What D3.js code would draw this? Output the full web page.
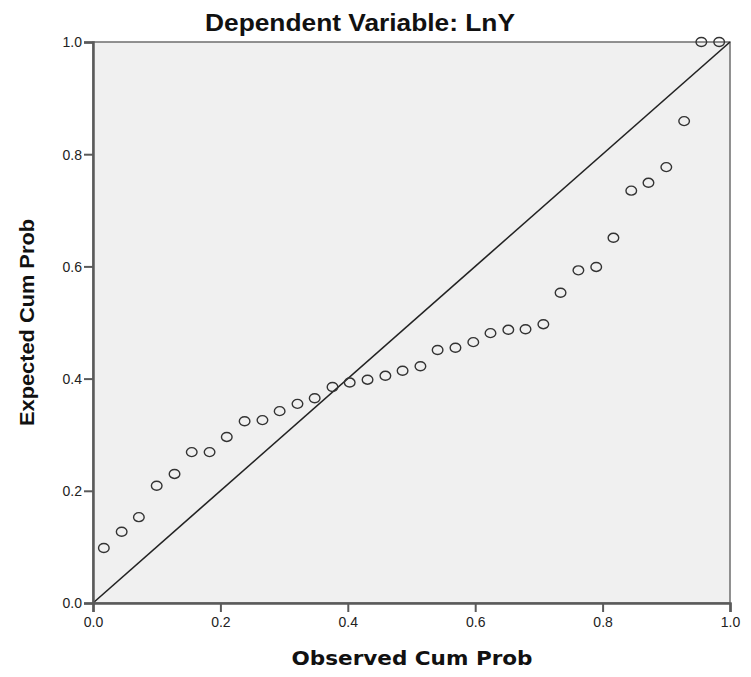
<!DOCTYPE html>
<html><head><meta charset="utf-8">
<script src="https://cdn.jsdelivr.net/npm/d3@7"></script>
<style>body{margin:0;background:#fff;} svg{display:block;}</style>
</head><body>
<script>
const observed = [0.017,0.045,0.072,0.100,0.128,0.155,0.183,0.210,0.238,0.266,0.293,0.321,0.348,0.376,0.403,0.431,0.459,0.486,0.514,0.541,0.569,0.597,0.624,0.652,0.679,0.707,0.734,0.762,0.790,0.817,0.845,0.872,0.900,0.928,0.955,0.983];
const expected = [0.098,0.127,0.153,0.209,0.230,0.269,0.269,0.296,0.324,0.326,0.342,0.355,0.365,0.385,0.393,0.398,0.405,0.414,0.422,0.451,0.455,0.465,0.481,0.487,0.488,0.497,0.553,0.593,0.599,0.651,0.735,0.749,0.777,0.859,1.0,1.0];
const ticks = [0,0.2,0.4,0.6,0.8,1.0];
const title = "Dependent Variable: LnY";
const xTitle = "Observed Cum Prob";
const yTitle = "Expected Cum Prob";

const W = 751, H = 677;
const m = {left:93, right:21, top:42, bottom:74};
const svg = d3.select("body").append("svg").attr("width",W).attr("height",H);
const x = d3.scaleLinear().domain([0,1]).range([m.left, W-m.right]);
const y = d3.scaleLinear().domain([0,1]).range([H-m.bottom, m.top]);

svg.append("rect").attr("x",x(0)).attr("y",y(1)).attr("width",x(1)-x(0)).attr("height",y(0)-y(1))
  .attr("fill","#f0f0f0").attr("stroke","#6e6e6e").attr("stroke-width",1.5);

// diagonal
svg.append("line").attr("x1",x(0)).attr("y1",y(0)).attr("x2",x(1)).attr("y2",y(1))
  .attr("stroke","#222").attr("stroke-width",1.6);

const fmt = d3.format(".1f");
const xa = svg.append("g").attr("transform",`translate(0,${y(0)})`)
  .call(d3.axisBottom(x).tickValues(ticks).tickFormat(fmt).tickSize(9).tickPadding(5));
const ya = svg.append("g").attr("transform",`translate(${x(0)},0)`)
  .call(d3.axisLeft(y).tickValues(ticks).tickFormat(fmt).tickSize(9).tickPadding(2));
[xa,ya].forEach(g=>{
  g.select(".domain").attr("stroke","#5a5a5a").attr("stroke-width",2.5);
  g.selectAll(".tick line").attr("stroke","#5a5a5a").attr("stroke-width",2);
  g.selectAll("text").attr("fill","#222").style("font-family","'Liberation Sans', Arial, sans-serif").style("font-size","14px");
});
ya.selectAll(".tick text").attr("dy","0.35em");

svg.append("g").selectAll("ellipse").data(observed.map((o,i)=>[o,expected[i]])).join("ellipse")
  .attr("cx",d=>x(d[0])).attr("cy",d=>y(d[1])).attr("rx",5.3).attr("ry",4.5)
  .attr("fill","none").attr("stroke","#333").attr("stroke-width",1.4);

const tf = "'Liberation Sans', Arial, sans-serif";
const df = "'DejaVu Sans', Verdana, sans-serif";
svg.append("text").attr("x",360).attr("y",31).attr("text-anchor","middle")
  .attr("textLength",310).attr("lengthAdjust","spacingAndGlyphs")
  .style("font-family",tf).style("font-weight","bold").style("font-size","23px").attr("fill","#111").text(title);
svg.append("text").attr("x",412).attr("y",665).attr("text-anchor","middle")
  .attr("textLength",241).attr("lengthAdjust","spacingAndGlyphs")
  .style("font-family",df).style("font-weight","bold").style("font-size","20px").attr("fill","#111").text(xTitle);
svg.append("text").attr("transform",`translate(34,${(y(0)+y(1))/2}) rotate(-90)`).attr("text-anchor","middle")
  .attr("textLength",207).attr("lengthAdjust","spacingAndGlyphs")
  .style("font-family",tf).style("font-weight","bold").style("font-size","21px").attr("fill","#111").text(yTitle);
</script>
</body></html>
